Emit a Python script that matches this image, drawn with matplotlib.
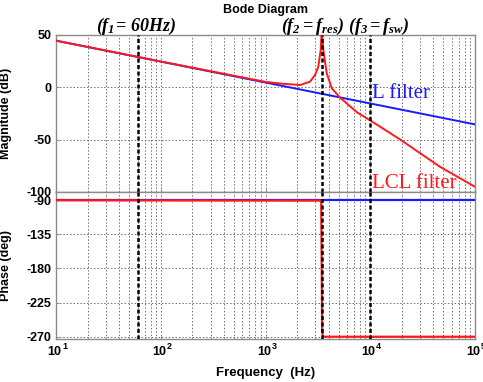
import matplotlib
matplotlib.use('Agg')
import matplotlib.pyplot as plt
from matplotlib.ticker import FixedLocator, LogLocator, NullFormatter

# ---------------- data ----------------
freq_L = [10, 100000]
mag_L = [44.6, -35.4]
phase_L = [-90, -90]

freq_LCL = [10, 100, 1000, 1400, 2140, 2660, 2970, 3190, 3365, 3420, 3440,
            3470, 3565, 3840, 4300, 5140, 5960, 7500, 9960, 19200, 46300, 100000]
mag_LCL = [44.6, 24.7, 5.2, 3.6, 2.2, 5.4, 11.8, 19.7, 35.7, 50, 65,
           50, 35.7, 13.4, -1.0, -9.8, -15.3, -24.0, -31.5, -49.7, -75.9, -95.0]

freq_LCL_ph = [10, 3400, 3440, 3470, 3520, 3600, 100000]
phase_LCL = [-90, -90.5, -180, -262, -268.5, -270, -270]

marker_freqs = [60, 3440, 10000]

mag_ticks = [50, 0, -50, -100]
phase_ticks = [-90, -135, -180, -225, -270]
decades = [1, 2, 3, 4, 5]

# ---------------- style ----------------
plt.rcParams.update({
    'font.family': 'Liberation Sans',
    'font.weight': 'bold',
    'axes.unicode_minus': False,
    'mathtext.fontset': 'custom',
    'mathtext.rm': 'Liberation Serif:italic:bold',
    'mathtext.bf': 'Liberation Serif:italic:bold',
    'mathtext.it': 'Liberation Serif:italic:bold',
})

W, H = 483, 382
fig = plt.figure(figsize=(W / 100, H / 100), dpi=100)
ax1 = fig.add_axes([56 / W, 1 - 192 / H, 419 / W, 157 / H])
ax2 = fig.add_axes([56 / W, 1 - 339 / H, 419 / W, 147 / H])

RED = '#ff1a1a'
BLUE = '#1a1aff'
GRID = '#707070'
SPINE = '#8a8a8a'

ax1.plot(freq_L, mag_L, color=BLUE, lw=1.4, zorder=3)
ax1.plot(freq_LCL, mag_LCL, color=RED, lw=1.4, zorder=4)
ax2.plot(freq_L, phase_L, color=BLUE, lw=1.6, zorder=3)
ax2.plot(freq_LCL_ph, phase_LCL, color=RED, lw=1.6, zorder=4)

for ax in (ax1, ax2):
    ax.set_xscale('log')
    ax.set_xlim(10, 1e5)
    for f in marker_freqs:
        ax.axvline(f, color='k', ls=(0, (1.6, 1.0)), lw=1.8, zorder=6)
    ax.xaxis.set_major_locator(FixedLocator([10.0 ** d for d in decades]))
    ax.xaxis.set_minor_locator(LogLocator(base=10, subs=range(2, 10)))
    ax.xaxis.set_minor_formatter(NullFormatter())
    ax.grid(True, which='major', axis='both', ls=(0, (1.5, 2.0)), color=GRID, lw=0.7, zorder=1)
    ax.grid(True, which='minor', axis='x', ls=(0, (1.5, 2.0)), color=GRID, lw=0.7, zorder=1)
    for s in ax.spines.values():
        s.set_color(SPINE)
        s.set_linewidth(1.0)
    ax.tick_params(which='both', direction='in', color=SPINE, length=2.5,
                   labelsize=9, pad=3)
    ax.tick_params(which='minor', length=1.5)
    ax.tick_params(axis='x', labelbottom=False)

ax1.set_ylim(-100, 50)
ax1.set_yticks(mag_ticks)

ax2.set_ylim(-273, -79.1)
ax2.set_yticks(phase_ticks)

# x tick labels "10^n" built from a base and a raised exponent
xtr = ax2.get_xaxis_transform()
for d in decades:
    ax2.annotate('10', xy=(10.0 ** d, 0), xycoords=xtr, xytext=(-1.1, -9.6),
                 textcoords='offset points', ha='center', va='center',
                 fontsize=9, fontweight='bold', annotation_clip=False)
    ax2.annotate(str(d), xy=(10.0 ** d, 0), xycoords=xtr, xytext=(4.3, -5.2),
                 textcoords='offset points', ha='left', va='center',
                 fontsize=6.5, fontweight='bold', annotation_clip=False)

ax1.set_ylabel('Magnitude (dB)', fontsize=9, fontweight='bold')
ax2.set_ylabel('Phase (deg)', fontsize=9, fontweight='bold')
ax1.yaxis.set_label_coords(-0.105, 0.5)
ax2.yaxis.set_label_coords(-0.105, 0.5)
ax2.set_xlabel('Frequency  (Hz)', fontsize=9.5, fontweight='bold', labelpad=17)

fig.text(265.5 / W, 1 - 9.5 / H, 'Bode Diagram', ha='center', va='center',
         fontsize=9, fontweight='bold')

fig.text(136 / W, 1 - 26 / H, r'$(f_1\!=\,60Hz)$', ha='center', va='center', fontsize=13)
fig.text(345 / W, 1 - 26 / H, r'$(f_2=f_{res})\ (f_3=f_{sw})$', ha='center', va='center', fontsize=13)

fig.text(372 / W, 1 - 93 / H, 'L filter', color=BLUE, ha='left', va='center',
         fontsize=15, fontfamily='Liberation Serif', fontweight='normal')
fig.text(372 / W, 1 - 183 / H, 'LCL filter', color=RED, ha='left', va='center',
         fontsize=15, fontfamily='Liberation Serif', fontweight='normal')

fig.savefig('out.png', dpi=100)
